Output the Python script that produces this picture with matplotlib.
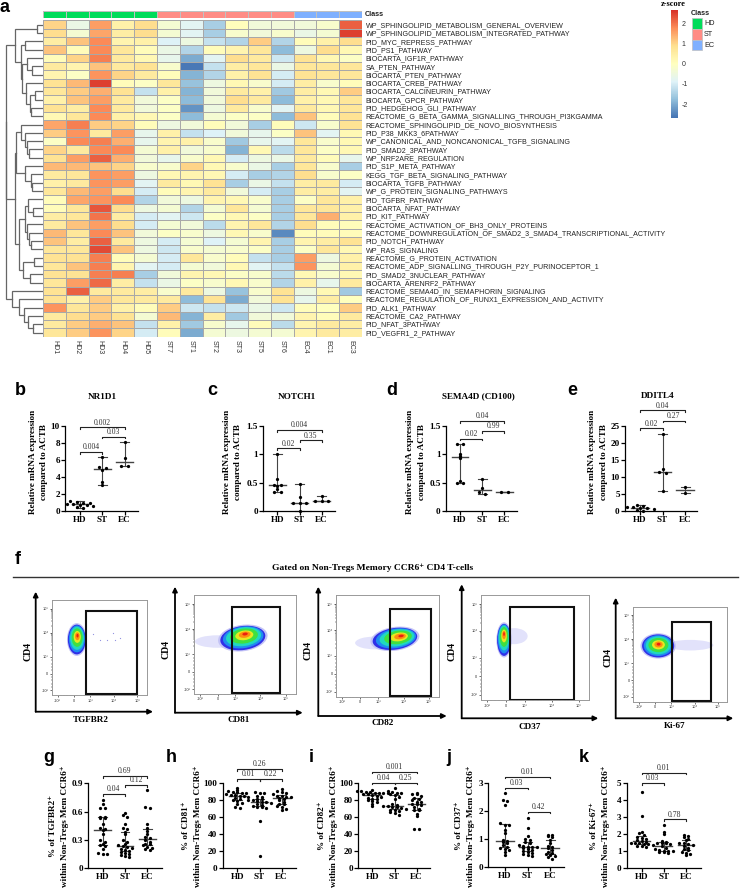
import numpy as np
import matplotlib
matplotlib.use('Agg')
import matplotlib.pyplot as plt
from matplotlib.patches import Ellipse, Rectangle
from matplotlib.colors import ListedColormap, LinearSegmentedColormap

W, H = 740, 888
SANS = ['Liberation Sans', 'DejaVu Sans']
SERIF = ['Liberation Serif', 'DejaVu Serif']

# ---- panel a ----
samples = ['HD1', 'HD2', 'HD3', 'HD4', 'HD5', 'ST7', 'ST1', 'ST2', 'ST3', 'ST5', 'ST6', 'EC4', 'EC1', 'EC3']
sample_class = [0, 0, 0, 0, 0, 1, 1, 1, 1, 1, 1, 2, 2, 2]
class_names = ['HD', 'ST', 'EC']
class_colors = ['#00DC5A', '#FF8C85', '#7FB0FF']
heat_colors = ['#4575B4', '#91BFDB', '#E0F3F8', '#FFFFBF', '#FEE090', '#FC8D59', '#D73027']
pathways = [
    'WP_SPHINGOLIPID_METABOLISM_GENERAL_OVERVIEW', 'WP_SPHINGOLIPID_METABOLISM_INTEGRATED_PATHWAY',
    'PID_MYC_REPRESS_PATHWAY', 'PID_PS1_PATHWAY', 'BIOCARTA_IGF1R_PATHWAY', 'SA_PTEN_PATHWAY',
    'BIOCARTA_PTEN_PATHWAY', 'BIOCARTA_CREB_PATHWAY', 'BIOCARTA_CALCINEURIN_PATHWAY', 'BIOCARTA_GPCR_PATHWAY',
    'PID_HEDGEHOG_GLI_PATHWAY', 'REACTOME_G_BETA_GAMMA_SIGNALLING_THROUGH_PI3KGAMMA',
    'REACTOME_SPHINGOLIPID_DE_NOVO_BIOSYNTHESIS', 'PID_P38_MKK3_6PATHWAY',
    'WP_CANONICAL_AND_NONCANONICAL_TGFB_SIGNALING', 'PID_SMAD2_3PATHWAY', 'WP_NRF2ARE_REGULATION',
    'PID_S1P_META_PATHWAY', 'KEGG_TGF_BETA_SIGNALING_PATHWAY', 'BIOCARTA_TGFB_PATHWAY',
    'WP_G_PROTEIN_SIGNALING_PATHWAYS', 'PID_TGFBR_PATHWAY', 'BIOCARTA_NFAT_PATHWAY', 'PID_KIT_PATHWAY',
    'REACTOME_ACTIVATION_OF_BH3_ONLY_PROTEINS',
    'REACTOME_DOWNREGULATION_OF_SMAD2_3_SMAD4_TRANSCRIPTIONAL_ACTIVITY', 'PID_NOTCH_PATHWAY', 'WP_RAS_SIGNALING',
    'REACTOME_G_PROTEIN_ACTIVATION', 'REACTOME_ADP_SIGNALLING_THROUGH_P2Y_PURINOCEPTOR_1',
    'PID_SMAD2_3NUCLEAR_PATHWAY', 'BIOCARTA_ARENRF2_PATHWAY', 'REACTOME_SEMA4D_IN_SEMAPHORIN_SIGNALING',
    'REACTOME_REGULATION_OF_RUNX1_EXPRESSION_AND_ACTIVITY', 'PID_ALK1_PATHWAY', 'REACTOME_CA2_PATHWAY',
    'PID_NFAT_3PATHWAY', 'PID_VEGFR1_2_PATHWAY']
zscores = [
    [1.0, -0.6, 1.6, 0.4, 0.9, -0.3, -0.8, -1.5, 0.05, -0.4, -0.4, -0.4, -0.2, 2.2],
    [0.9, -0.3, 1.5, 0.5, 0.9, -0.3, -0.8, -1.5, -0.2, -0.4, -0.2, -0.6, -0.3, 2.5],
    [0.5, 1.2, 1.8, 0.3, 0.4, -0.9, -0.5, -1.2, -1.4, 1.1, -1.4, 0.1, 0.4, 0.9],
    [1.2, 0.1, 1.8, 0.7, 0.1, -0.6, -1.4, 0.1, 0.3, 0.7, -1.8, -0.5, 0.9, 0.2],
    [0.1, 1.0, 1.9, 0.6, 0.2, -0.7, -2.0, -0.8, 0.9, 0.6, -1.1, 0.8, 0.2, -0.1],
    [0.6, 0.3, 1.2, 0.6, 0.8, -0.2, -2.6, -1.2, 0.5, 0.7, -0.6, 0.7, 0.7, 0.7],
    [0.3, -0.1, 1.7, 1.0, 0.6, 0.1, -1.9, -1.4, 0.4, 0.8, -1.0, 0.8, 0.7, 0.7],
    [0.8, 1.3, 2.5, 0.1, -0.1, 0.7, -1.7, -0.5, 0.2, -0.2, -1.0, 0.5, -0.2, 0.1],
    [0.7, 1.1, 1.4, 0.8, -1.2, 0.4, -1.9, -0.4, 0.6, 0.4, -1.6, 0.5, 0.2, 1.1],
    [0.4, 1.2, 1.6, 0.6, -0.4, -0.1, -1.8, -0.4, 0.9, 0.6, -1.8, 0.4, 0.2, 0.7],
    [0.8, 0.5, 1.8, 0.6, -0.4, -0.1, -2.3, -0.5, 0.6, -0.2, -0.8, 0.6, 0.2, 0.7],
    [0.2, 0.7, 1.8, 0.4, 0.2, -0.1, -1.8, -0.3, -0.1, -0.1, -1.8, 1.2, 0.1, 0.8],
    [1.5, 1.9, 1.1, 1.0, 0.1, -0.5, -0.4, 0.1, -0.4, -1.5, 0.1, -1.1, -0.2, 0.8],
    [1.1, 1.7, 0.6, 1.6, -0.7, 0.4, -1.2, -0.9, -0.4, -0.7, -0.1, 1.2, -0.8, 0.2],
    [-0.1, 1.8, 1.9, 1.4, -0.7, 0.3, 0.4, -0.2, -1.6, -0.7, -0.8, 0.7, -0.2, 0.2],
    [1.0, 0.6, 1.8, 1.8, -0.3, 0.4, -0.4, -0.2, -1.9, 0.2, -1.3, 0.7, -0.1, 0.2],
    [0.8, 1.6, 2.2, 1.4, -0.4, -0.7, -0.2, 0.2, -1.0, -0.5, -0.6, 0.6, 0.1, -0.7],
    [1.3, 1.3, 1.2, 1.0, -0.2, -0.2, 1.0, 0.2, -0.2, -0.6, -1.5, 0.7, -0.2, -1.5],
    [0.6, 0.7, 1.7, 1.6, -0.5, 0.2, 0.3, 0.2, -1.0, -1.5, -1.4, 0.9, -0.2, -0.1],
    [0.4, 0.6, 1.7, 1.6, -0.8, 0.6, 0.2, 0.8, -1.5, -0.6, -1.2, 0.5, 0.6, -1.0],
    [0.7, 1.3, 1.6, 0.9, -1.0, 0.1, 0.3, 0.6, -0.4, -1.0, -1.5, 0.5, 0.5, -0.8],
    [0.1, 1.5, 1.7, 1.8, -1.4, -0.4, -0.5, 0.3, 0.2, -0.2, -1.5, -0.1, 0.7, 0.4],
    [0.1, 0.7, 2.3, 0.9, -0.5, -0.3, -1.4, -0.3, 0.7, -0.3, -1.5, 0.7, 0.7, 0.4],
    [0.5, 0.7, 2.0, 0.5, -1.0, -0.8, -1.1, -0.1, 0.2, -0.1, -1.5, 0.7, 1.4, 0.4],
    [0.6, 1.2, 1.6, 0.9, -1.0, -0.3, -0.4, -1.3, 0.3, 0.7, -1.4, 0.9, 0.1, 0.1],
    [1.3, 0.7, 1.8, 1.2, -0.4, -0.1, -0.2, -0.5, 0.2, -0.2, -2.4, 0.1, 0.1, 0.1],
    [1.2, 0.5, 2.2, 0.6, -0.5, -1.0, -0.3, -0.9, -0.3, 0.3, -1.5, 0.3, 0.5, 0.8],
    [0.7, 0.7, 2.4, 1.2, -0.5, -1.1, -0.2, -0.3, -0.2, -0.1, -1.5, -0.1, 0.7, 0.2],
    [0.8, 0.8, 1.9, 0.1, -0.3, -1.0, 0.7, -0.2, 0.1, -1.2, -1.5, 1.6, -0.5, 0.4],
    [0.7, 1.2, 1.9, 0.3, -0.8, -1.0, -0.3, -0.4, 0.2, -0.8, -1.2, 1.7, -0.3, 0.4],
    [0.8, 0.8, 1.9, 1.9, -1.5, -0.4, 0.3, 0.2, -0.1, -0.2, -1.3, 0.2, -0.2, 0.2],
    [0.7, 1.6, 2.1, 0.5, -1.2, -0.6, -0.1, -0.2, 0.2, -0.2, -1.4, 0.4, -0.7, 0.6],
    [0.8, 2.2, 0.6, 0.6, 0.5, -0.2, 0.6, -0.5, -1.7, -0.2, 0.8, -0.5, 0.2, -1.6],
    [0.8, 0.4, 1.1, 0.7, 0.6, 0.6, -1.8, 0.8, -2.0, -0.4, 0.8, -0.7, 0.5, 0.0],
    [1.7, 0.7, 1.1, 0.4, 0.1, 1.1, -1.1, -1.2, -1.1, -0.6, -1.1, 0.1, 0.0, 1.1],
    [0.6, 0.9, 1.1, 0.8, -0.3, 1.3, -1.9, 0.5, -1.6, -0.4, -0.4, 0.3, 0.1, 0.6],
    [0.6, 1.1, 1.4, 1.2, -1.2, 0.4, -1.6, -0.2, -0.7, 0.1, -1.3, 0.3, 0.6, 0.5],
    [0.7, 1.1, 1.7, 1.0, -1.0, 0.1, -2.0, -0.3, -0.5, -0.3, -0.3, 0.3, 0.6, 0.5]]

# row clustering: (height, upper child, lower child), an int is a row
tree_a = (85, (19, 0, 1), (67, (53, 2, 3), (62, (47, 4, (32, 5, 6)), (50, 7, (40, (24, 8, 9), (35, 10, 11))))))
tree_b1 = (81, (67, 12, (55, 13, (47, 14, (42, 15, 16)))), (53, 17, (37, 18, (32, 19, 20))))
tree_b2 = (72, (54, (45, 21, (29, 22, 23)), (49, 24, (41, 25, (35, 26, 27)))), (59, (28, 28, 29), (38, 30, 31)))
tree_c = (93, 32, (72, 33, (56, 34, (44, 35, (29, 36, 37)))))
row_tree = (112, (110, tree_a, (83, tree_b1, tree_b2)), tree_c)

# ---- panels b-e, qPCR ----
groups = ['HD', 'ST', 'EC']
nr1d1 = [[1.2, 1.0, 0.95, 0.9, 0.85, 0.8, 0.7, 0.65, 0.55, 0.5, 0.4], [6.3, 5.1, 5.05, 4.8, 3.4, 3.0], [8.1, 6.2, 5.3, 5.3]]
notch1 = [[1.0, 0.56, 0.46, 0.46, 0.44, 0.38, 0.33, 0.33], [0.48, 0.24, 0.14, 0.14, 0.14, 0.0], [0.27, 0.18, 0.18, 0.17]]
sema4d = [[1.17, 1.17, 1.0, 0.97, 0.93, 0.52, 0.5, 0.5], [0.57, 0.4, 0.33, 0.3], [0.34, 0.34]]
dditl4 = [[1.9, 1.6, 1.2, 1.1, 1.0, 0.8, 0.7, 0.3, 0.1], [22.7, 12.2, 11.5, 11.2, 5.9], [6.9, 5.2]]

# ---- panels g-k, flow cytometry summaries ----
tgfbr2 = [[0.72, 0.68, 0.64, 0.64, 0.54, 0.54, 0.53, 0.53, 0.47, 0.42, 0.41, 0.40, 0.36, 0.30, 0.28, 0.26, 0.24, 0.23, 0.20, 0.16, 0.15, 0.15],
          [0.58, 0.56, 0.54, 0.47, 0.42, 0.41, 0.38, 0.36, 0.30, 0.28, 0.25, 0.24, 0.23, 0.22, 0.21, 0.20, 0.19, 0.18, 0.17, 0.16, 0.15, 0.14, 0.13, 0.12],
          [0.83, 0.65, 0.64, 0.47, 0.42, 0.39, 0.36, 0.33, 0.32, 0.30, 0.28, 0.26, 0.25, 0.24, 0.22, 0.21, 0.20, 0.19]]
cd81 = [[95, 92, 91, 90, 90, 89, 88, 87, 86, 86, 85, 85, 84, 83, 82, 80, 79, 77, 75, 72, 71],
        [90, 89, 88, 85, 84, 82, 81, 80, 80, 79, 78, 78, 77, 76, 74, 73, 72, 72, 71, 55, 14],
        [93, 91, 90, 89, 87, 85, 85, 84, 84, 83, 81, 80, 78, 76, 75, 73, 72, 70, 69]]
cd82 = [[92, 91, 91, 90, 90, 89, 89, 88, 88, 87, 87, 86, 85, 84, 83, 82, 81, 80, 79, 78, 76, 73],
        [95, 91, 90, 89, 88, 87, 86, 84, 82, 75, 74, 73, 73, 72, 72, 71, 70, 69, 68, 67, 66, 65, 63],
        [88, 87, 87, 85, 83, 82, 80, 78, 78, 76, 75, 74, 72, 70, 68, 68, 64, 61, 46, 46]]
cd37 = [[2.65, 2.4, 2.35, 2.2, 1.55, 1.5, 1.5, 1.3, 1.2, 0.95, 0.92, 0.9, 0.85, 0.8, 0.72, 0.68, 0.65, 0.62, 0.55, 0.42],
        [1.75, 1.4, 1.1, 1.0, 0.95, 0.9, 0.85, 0.8, 0.75, 0.72, 0.7, 0.7, 0.68, 0.65, 0.6, 0.58, 0.55, 0.5, 0.45, 0.42, 0.4],
        [1.15, 1.13, 1.1, 1.05, 0.95, 0.85, 0.75, 0.7, 0.68, 0.62, 0.55, 0.5, 0.45, 0.42, 0.38, 0.35, 0.28]]
ki67 = [[4.5, 3.05, 2.1, 2.05, 1.95, 1.85, 1.8, 1.7, 1.65, 1.6, 1.55, 1.5, 1.5, 1.45, 1.4, 1.4, 1.35, 1.3, 1.3, 1.25],
        [2.55, 2.15, 2.0, 1.6, 1.55, 1.5, 1.5, 1.45, 1.4, 1.3, 1.2, 1.1, 1.05, 1.0, 1.0, 1.0, 0.95, 0.95, 0.9],
        [1.95, 1.9, 1.85, 1.7, 1.65, 1.5, 1.45, 1.4, 1.35, 1.3, 1.2, 1.1, 1.05, 0.95, 0.9, 0.85, 0.75]]

# ---- panel f, gates and cell clouds on the biexponential axis ----
facs_markers = ['TGFBR2', 'CD81', 'CD82', 'CD37', 'Ki-67']
facs_gates = [(0.52, 2.67, -0.83, 2.61), (0.57, 2.47, -0.87, 2.59), (1.18, 2.78, -0.86, 2.51),
              (0.13, 2.54, -0.89, 2.60), (0.71, 2.41, -0.87, 2.42)]
facs_center = [(0.12, 1.42), (1.00, 1.34), (1.36, 1.36), (-0.08, 1.36), (0.13, 1.42)]
facs_peak = [(0.15, 1.58), (1.09, 1.50), (1.60, 1.47), (-0.08, 1.58), (0.15, 1.49)]
facs_size = [(0.38, 0.62), (0.90, 0.48), (0.88, 0.42), (0.26, 0.60), (0.69, 0.48)]
facs_tilt = [0, 8, 8, 0, 0]
facs_tail = [None, (0.0, 1.2, 0.9, 0.25), (0.6, 1.2, 0.8, 0.25), (0.3, 1.5, 0.5, 0.3), (1.5, 1.45, 1.0, 0.22)]
tgfbr2_sparse_x = [0.81, 1.1, 1.4, 1.66, 1.74, 1.96]
tgfbr2_sparse_y = [1.65, 1.4, 1.4, 1.7, 1.4, 1.5]
biex_ticks = [-0.7, 0, 0.7, 1.7, 2.7]
biex_labels = ['-10³', '0', '10³', '10⁴', '10⁵']
density_colors = ['#3030e8', '#1f8cf0', '#20d8c0', '#40e040', '#e8e820', '#ff8c10', '#e82010']
density_scales = [1.0, 0.9, 0.78, 0.62, 0.40, 0.26, 0.12]

fig = plt.figure(figsize=(W / 100, H / 100), dpi=100)


def px_axes(x0, x1, ytop, ybot):
    return fig.add_axes([x0 / W, 1 - ybot / H, (x1 - x0) / W, (ybot - ytop) / H])


bg = fig.add_axes([0, 0, 1, 1])
bg.set_xlim(0, W)
bg.set_ylim(H, 0)
bg.axis('off')

# heatmap
heat_cmap = LinearSegmentedColormap.from_list('heat', heat_colors)
ax = px_axes(43, 362, 20.5, 336.7)
mesh = ax.pcolormesh(np.array(zscores), cmap=heat_cmap, vmin=-2.66, vmax=2.66, edgecolors='#a8a8a8', linewidth=0.5)
ax.set_ylim(len(pathways), 0)
ax.yaxis.tick_right()
ax.set_yticks(np.arange(len(pathways)) + 0.5, pathways, family=SANS, fontsize=5.12, color='#222222')
ax.set_xticks(np.arange(len(samples)) + 0.5, samples, rotation=270, family=SANS, fontsize=5, color='#333333')
ax.tick_params(length=0, pad=2.5)
for s in ax.spines.values():
    s.set_visible(False)

ax = px_axes(43, 362, 11, 18.3)
ax.pcolormesh([sample_class], cmap=ListedColormap(class_colors), vmin=0, vmax=2, edgecolors='#c0c0c0', linewidth=0.4)
ax.axis('off')
bg.text(365, 14.8, 'Class', family=SANS, fontsize=5.2, weight='bold', va='center', color='#222222')


def draw_tree(ax, node, color='#666666'):
    if isinstance(node, int):
        return 0, node + 0.5
    height, upper, lower = node
    h1, y1 = draw_tree(ax, upper)
    h2, y2 = draw_tree(ax, lower)
    ax.plot([h1, height, height, h2], [y1, y1, y2, y2], color=color, lw=0.9, solid_joinstyle='miter')
    return height, (y1 + y2) / 2


ax = px_axes(0, 43, 20.5, 336.7)
draw_tree(ax, row_tree)
ax.set_xlim(129, 0)
ax.set_ylim(len(pathways), 0)
ax.axis('off')

# colour key and class legend
cax = px_axes(670.7, 678, 10, 117.5)
cb = fig.colorbar(mesh, cax=cax, ticks=[-2, -1, 0, 1, 2])
cb.set_ticklabels(['-2', '-1', '0', '1', '2'])
cb.outline.set_visible(False)
cb.ax.tick_params(length=0, labelsize=5, pad=2.5, labelcolor='#333333')
for t in cb.ax.get_yticklabels():
    t.set_family(SANS)
bg.text(661, 4, 'z-score', family=SERIF, fontsize=6, weight='bold', va='center')
bg.text(691, 13.3, 'Class', family=SANS, fontsize=5.2, weight='bold', va='center', color='#222222')
for i, name in enumerate(class_names):
    y = 18.3 + 10.7 * i
    bg.add_patch(Rectangle((691.5, y), 10.5, 10.7, facecolor=class_colors[i], edgecolor='#c0c0c0', lw=0.5))
    bg.text(704, y + 5.4, name, family=SANS, fontsize=5.2, va='center', color='#222222')


def swarm_x(vals, step, dx):
    vals = np.asarray(vals, float)
    bins = np.round(vals / step)
    xs = np.zeros(len(vals))
    for b in np.unique(bins):
        idx = np.where(bins == b)[0]
        xs[idx] = (np.arange(len(idx)) - (len(idx) - 1) / 2) * dx
    return xs


def dot_panel(box, ymax, yticks, ylabels, data, brackets, use_iqr, dx=0.2):
    x0, hd, ec, x1, ytop, ybot = box
    ax = px_axes(x0, x1, ytop, ybot)
    ax.set_xlim((x0 - hd) / ((ec - hd) / 2), (x1 - hd) / ((ec - hd) / 2))
    ax.set_ylim(0, ymax)
    for i, vals in enumerate(data):
        xs = i + swarm_x(vals, ymax / 28, dx)
        ax.scatter(xs, vals, s=5.5, color='black', linewidths=0, clip_on=False, zorder=3)
        if use_iqr:
            lo, hi = np.percentile(vals, [25, 75])
        else:
            lo, hi = min(vals), max(vals)
        med = np.median(vals)
        col = '#444444'
        ax.plot([i, i], [lo, hi], color=col, lw=0.8, clip_on=False, zorder=2)
        ax.plot([i - 0.2, i + 0.2], [lo, lo], color=col, lw=0.8, clip_on=False, zorder=2)
        ax.plot([i - 0.2, i + 0.2], [hi, hi], color=col, lw=0.8, clip_on=False, zorder=2)
        ax.plot([i - 0.38, i + 0.38], [med, med], color=col, lw=1, clip_on=False, zorder=2)
    cap = ymax * 0.02
    for a, b, y, txt in brackets:
        ax.plot([a, a, b, b], [y - cap, y, y, y - cap], color='#222222', lw=0.8, clip_on=False)
        ax.annotate(txt, ((a + b) / 2, y), xytext=(0, 0.6), textcoords='offset points', ha='center', va='bottom',
                    family=SERIF, fontsize=5.6, color='#333333', annotation_clip=False)
    ax.set_xticks([0, 1, 2], groups, family=SERIF, fontsize=6.6, weight='bold')
    ax.set_yticks(yticks, ylabels, family=SERIF, fontsize=6.6, weight='bold')
    ax.tick_params(axis='both', length=3, width=0.9, pad=0.8)
    for s in ['top', 'right']:
        ax.spines[s].set_visible(False)
    for s in ['left', 'bottom']:
        ax.spines[s].set_linewidth(0.9)
    ax.patch.set_alpha(0)


# x axis, HD, EC, x end, top tick, zero tick
half = ['0', '0.5', '1', '1.5']
dot_panel((65.3, 80, 124.7, 138, 425.7, 511), 10, [0, 2, 4, 6, 8, 10], ['0', '2', '4', '6', '8', '10'], nr1d1,
          [(0, 2, 9.8, '0.002'), (1, 2, 8.7, '0.03'), (0, 1, 6.9, '0.004')], False, dx=0.3)
dot_panel((263.3, 277.3, 321.7, 335, 425.7, 511), 1.5, [0, 0.5, 1, 1.5], half, notch1,
          [(0, 2, 1.42, '0.004'), (1, 2, 1.24, '0.35'), (0, 1, 1.10, '0.02')], False, dx=0.3)
dot_panel((446, 460, 504.3, 516.7, 425.7, 511), 1.5, [0, 0.5, 1, 1.5], half, sema4d,
          [(0, 2, 1.58, '0.04'), (1, 2, 1.41, '0.99'), (0, 1, 1.27, '0.02')], False, dx=0.3)
dot_panel((625, 640, 685, 696.7, 425.7, 511), 25, [0, 5, 10, 15, 20, 25], ['0', '5', '10', '15', '20', '25'], dditl4,
          [(0, 2, 29.5, '0.04'), (1, 2, 26.5, '0.27'), (0, 1, 24.2, '0.02')], False, dx=0.3)
dot_panel((88.3, 102.7, 147.3, 161.7, 783.3, 868), 0.9, [0, 0.3, 0.6, 0.9], ['0', '0.3', '0.6', '0.9'], tgfbr2,
          [(0, 2, 0.978, '0.69'), (1, 2, 0.882, '0.12'), (0, 1, 0.783, '0.04')], True)
pct = [0, 20, 40, 60, 80, 100]
pct_txt = [str(v) for v in pct]
dot_panel((222.5, 237.3, 281.7, 296, 783.3, 868), 100, pct, pct_txt, cd81,
          [(0, 2, 116.5, '0.26'), (0, 1, 104.7, '0.01'), (1, 2, 104.7, '0.22')], True)
dot_panel((358.3, 372.3, 416.7, 430, 783.3, 868), 100, pct, pct_txt, cd82,
          [(0, 2, 113.8, '0.001'), (0, 1, 100.8, '0.04'), (1, 2, 100.8, '0.25')], True)
dot_panel((488.3, 505, 550, 564, 782.7, 867), 3, [0, 1, 2, 3], ['0', '1', '2', '3'], cd37,
          [(0, 2, 3.21, '0.01'), (0, 1, 2.82, '0.03'), (1, 2, 1.97, '0.42')], True)
dot_panel((626.7, 641.7, 686, 700.7, 783.3, 868), 5, [0, 1, 2, 3, 4, 5], ['0', '1', '2', '3', '4', '5'], ki67,
          [(0, 2, 5.63, '0.01'), (0, 1, 5.0, '0.03'), (1, 2, 2.87, '0.78')], True)

# axis titles of the dot plots
for x, y, txt in [(102, 397, 'NR1D1'), (297, 397, 'NOTCH1'), (478, 396, 'SEMA4D (CD100)'), (658, 396, 'DDITL4')]:
    bg.text(x, y, txt, family=SERIF, fontsize=6.6, weight='bold', ha='center', va='center')
for x in [33, 227, 410, 592]:
    bg.text(x, 462, 'Relative mRNA expression', family=SERIF, fontsize=6.6, weight='bold', rotation=90, ha='center', va='center')
    bg.text(x + 11.5, 462, 'compared to ACTB', family=SERIF, fontsize=6.6, weight='bold', rotation=90, ha='center', va='center')
for x, name in zip([53.3, 186, 321.7, 459, 594], ['TGFBR2', 'CD81', 'CD82', 'CD37', 'Ki-67']):
    bg.text(x, 826, '% of ' + name + '⁺', family=SERIF, fontsize=6.6, weight='bold', rotation=90, ha='center', va='center')
    bg.text(x + 11.7, 826, 'within Non-Tregs Mem CCR6⁺', family=SERIF, fontsize=6.6, weight='bold', rotation=90, ha='center', va='center')

# panel f
bg.text(373, 568, 'Gated on Non-Tregs Memory CCR6⁺ CD4 T-cells', family=SERIF, fontsize=6.8, weight='bold', ha='center', va='center')
bg.plot([13, 737.7], [577, 577], color='#333333', lw=1)

# inner box x0, x1, top, bottom; arrow x, top, bottom, right; CD4 label; marker label
facs_boxes = [(51.7, 146.7, 600.3, 695.3), (193.7, 295.7, 595.3, 694), (336, 439.3, 595.3, 697),
              (480.7, 589.3, 594.7, 700.3), (633, 727.3, 606.7, 701.7)]
facs_arrows = [(35.7, 591.7, 711.7, 153), (175, 586.7, 712.7, 302.7), (318.3, 586.7, 716, 446.7),
               (461.7, 584.3, 718.3, 598.3), (615.7, 597.7, 718.3, 733.3)]
facs_cd4 = [(27.7, 651.7), (166, 649), (308, 650.7), (451.7, 651.7), (607.7, 657.3)]
facs_xlabel = [(91, 720), (238.7, 720), (382.7, 723), (530, 726.7), (675, 725.7)]
minor_decades = [2, 3, 4, 5, 6, 7, 8, 9]
minor = [0.7 + k + np.log10(m) for k in range(2) for m in minor_decades]
minor += [0.7 * m / 10 for m in [-8, -6, -4, -2, 2, 4, 6, 8]]

for i in range(5):
    x0, x1, ytop, ybot = facs_boxes[i]
    ax = px_axes(x0, x1, ytop, ybot)
    ax.set_xlim(-0.95, 3.1)
    ax.set_ylim(-0.9, 3.05)
    cx, cy = facs_center[i]
    pkx, pky = facs_peak[i]
    sx, sy = facs_size[i]
    if facs_tail[i] is not None:
        tx, ty, tw, th = facs_tail[i]
        ax.add_patch(Ellipse((tx, ty), 2 * tw, 2 * th, facecolor='#e2e2fb', edgecolor='none'))
    ax.add_patch(Ellipse((cx, cy), 2.2 * sx, 2.2 * sy, angle=facs_tilt[i], facecolor='#c4c4f6', edgecolor='none'))
    n = len(density_colors)
    for k, col in enumerate(density_colors):
        f = k / (n - 1)
        ax.add_patch(Ellipse((cx + (pkx - cx) * f, cy + (pky - cy) * f),
                             2 * sx * density_scales[k], 2 * sy * density_scales[k],
                             angle=facs_tilt[i], facecolor=col, edgecolor='none'))
    if i == 0:
        ax.scatter(tgfbr2_sparse_x, tgfbr2_sparse_y, s=0.8, color='#9090e0', linewidths=0)
    xl, xr, yb, yt = facs_gates[i]
    ax.add_patch(Rectangle((xl, yb), xr - xl, yt - yb, fill=False, edgecolor='#111111', lw=1.5))
    ax.set_xticks(biex_ticks, biex_labels, family=SANS, fontsize=2.8)
    ax.set_yticks(biex_ticks, biex_labels, family=SANS, fontsize=2.8)
    ax.set_xticks(minor, minor=True)
    ax.set_yticks(minor, minor=True)
    ax.tick_params(which='major', length=1.5, width=0.4, pad=1, labelcolor='#333333')
    ax.tick_params(which='minor', length=0.8, width=0.3)
    for s in ax.spines.values():
        s.set_color('#999999')
        s.set_linewidth(0.7)
    arrow_x, top, bot, right = facs_arrows[i]
    arrow_style = dict(arrowstyle='-|>', color='black', lw=1.3, shrinkA=0, shrinkB=0, mutation_scale=7)
    bg.annotate('', xy=(arrow_x, top), xytext=(arrow_x, bot), arrowprops=arrow_style)
    bg.annotate('', xy=(right, bot), xytext=(arrow_x, bot), arrowprops=arrow_style)
    bg.text(facs_cd4[i][0], facs_cd4[i][1], 'CD4', family=SERIF, fontsize=7, weight='bold', rotation=90, ha='center', va='center')
    bg.text(facs_xlabel[i][0], facs_xlabel[i][1], facs_markers[i], family=SERIF, fontsize=6.6, weight='bold', ha='center', va='center')

# panel letters
letters = [('a', 0, 8), ('b', 15, 390), ('c', 207, 390), ('d', 386, 390), ('e', 567, 390), ('f', 15, 559),
           ('g', 43, 757), ('h', 166, 757), ('i', 309, 757), ('j', 446, 757), ('k', 579, 757)]
for txt, x, y in letters:
    bg.text(x, y, txt, family=SANS, fontsize=13, weight='bold', va='center')

fig.savefig('out.png', dpi=100)
